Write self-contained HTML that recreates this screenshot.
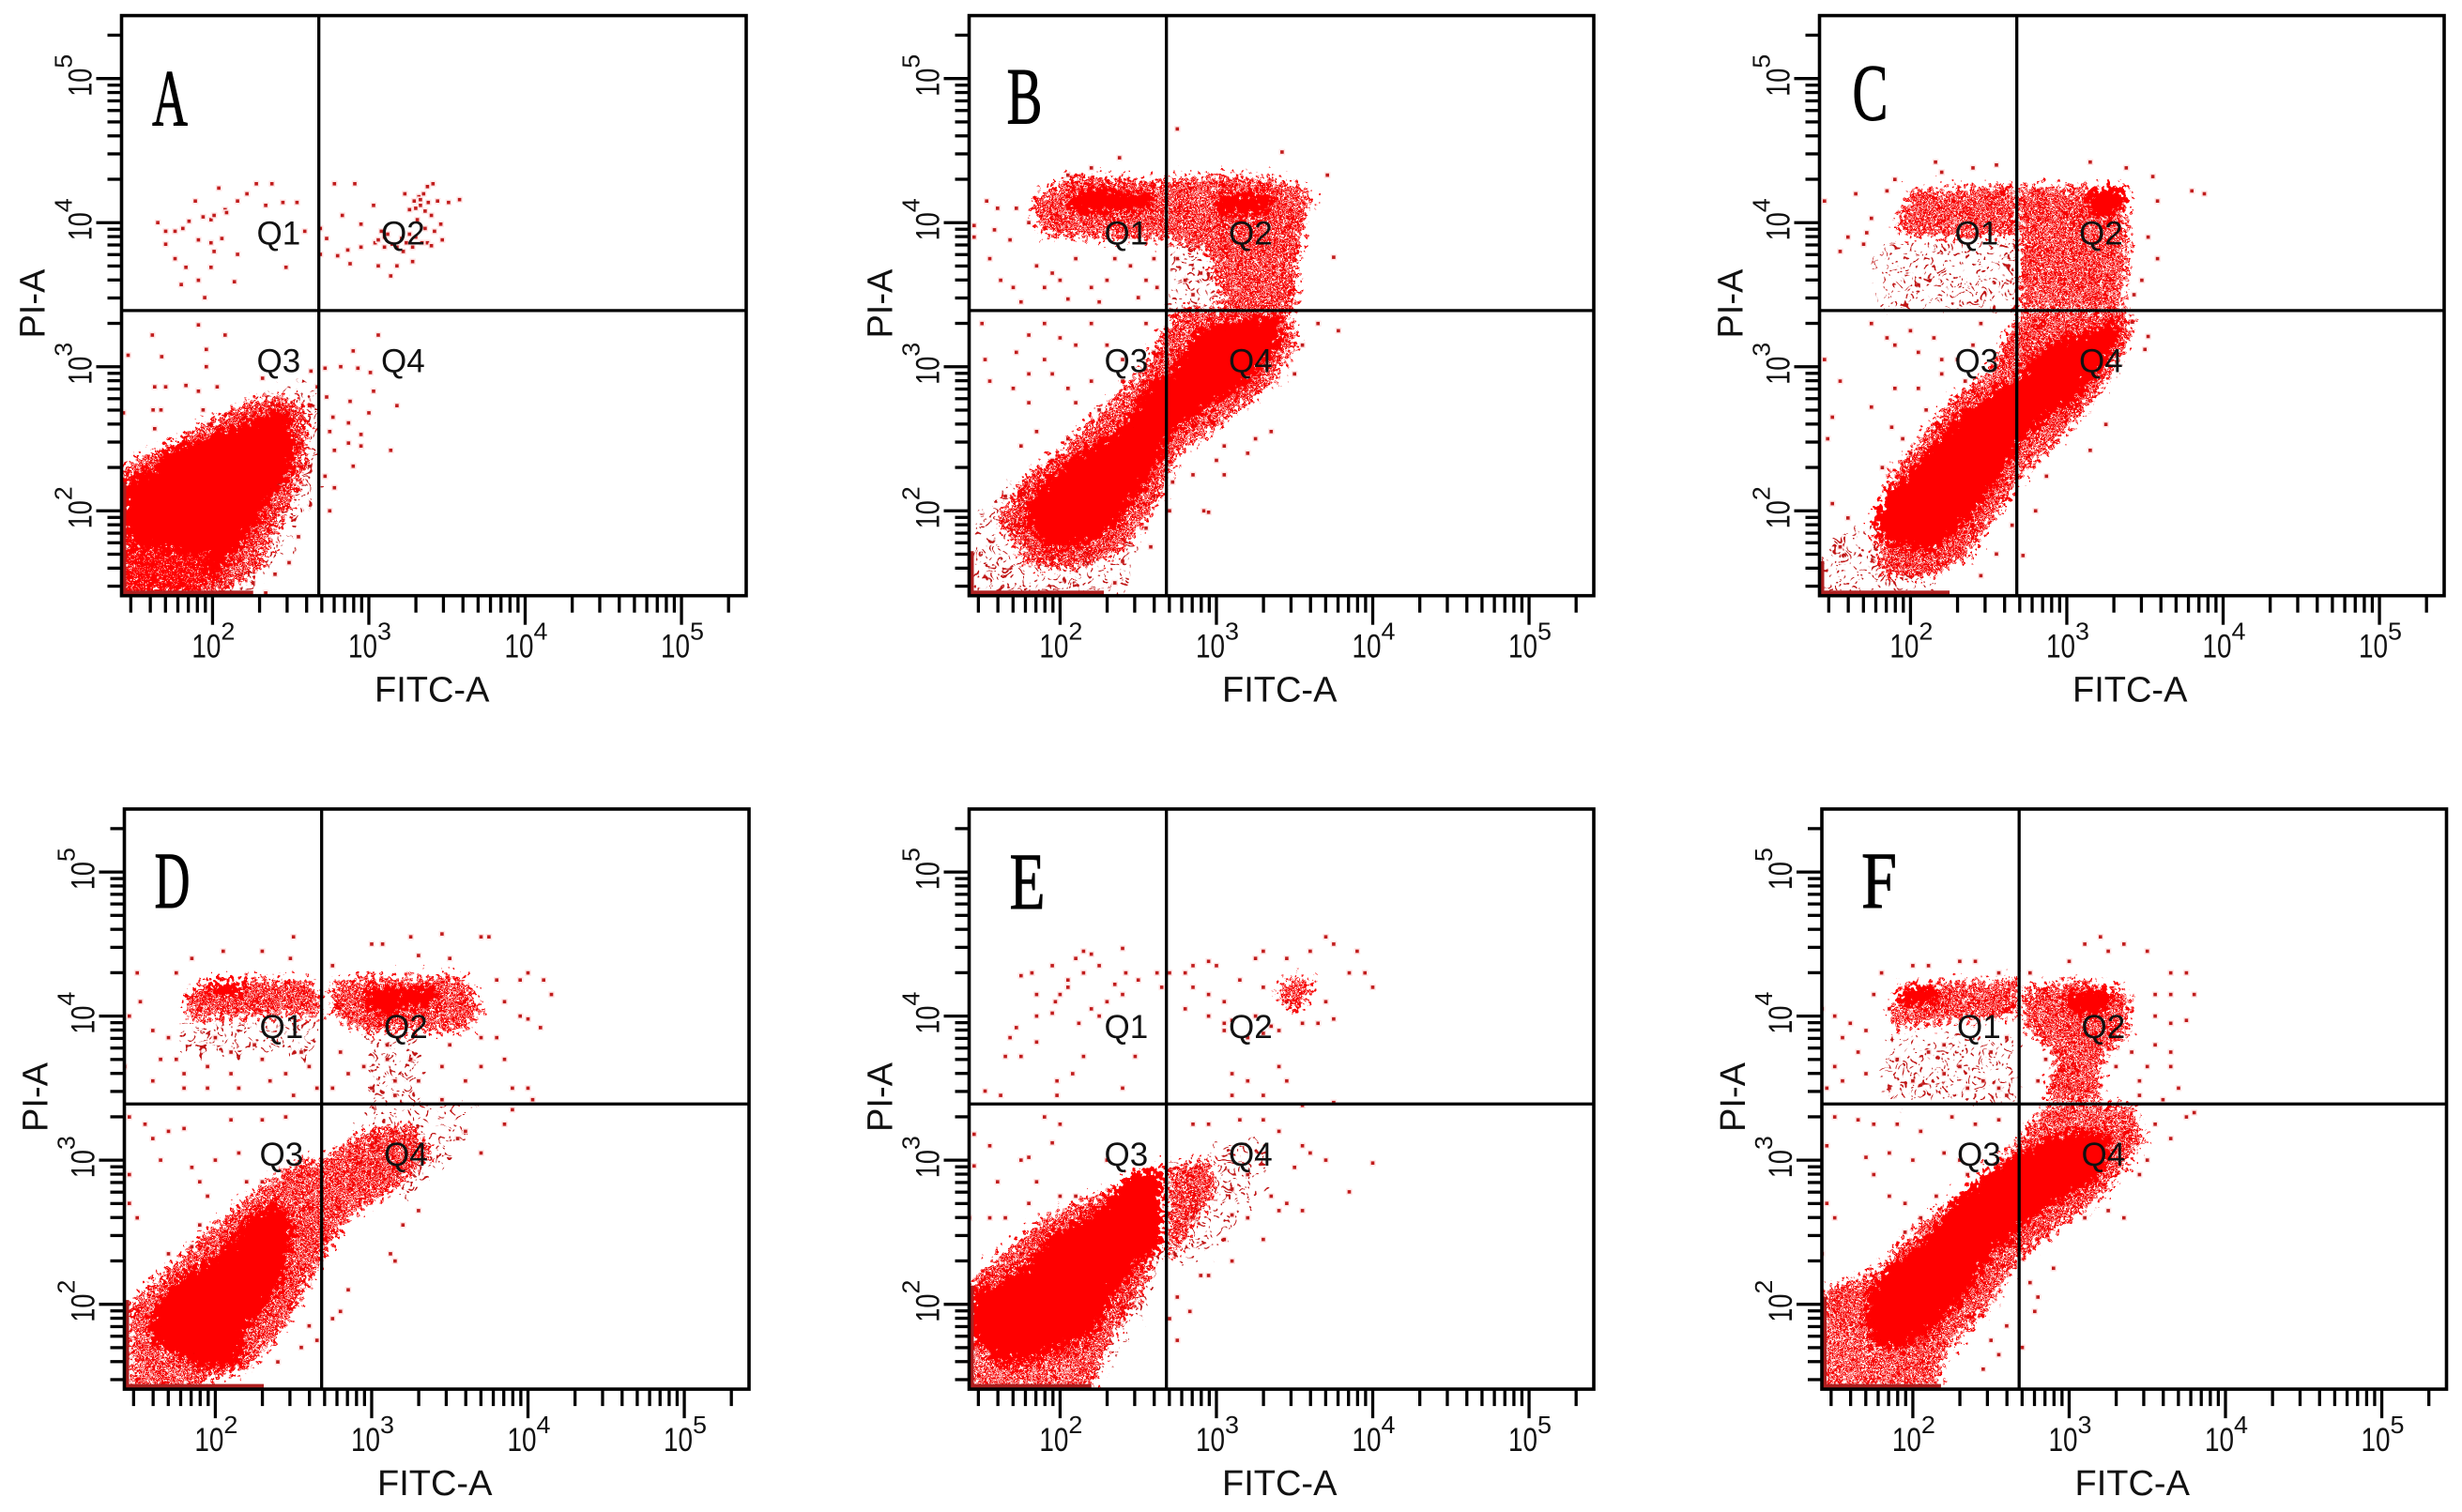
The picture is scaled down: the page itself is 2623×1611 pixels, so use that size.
<!DOCTYPE html>
<html lang="en">
<head>
<meta charset="utf-8">
<title>Annexin V-FITC / PI flow cytometry panels A-F</title>
<style>
html,body{margin:0;padding:0;background:#fff}
svg{display:block}
text{font-family:"Liberation Sans",sans-serif;fill:#111}
.letter{font-family:"Liberation Serif",serif;fill:#000;stroke:#000;stroke-width:0.9}
</style>
</head>
<body>
<svg id="figure" xmlns="http://www.w3.org/2000/svg" width="2623" height="1611" viewBox="0 0 2623 1611">
<defs>
<pattern id="tile-dense" patternUnits="userSpaceOnUse" width="36.3" height="36.3"><path id="tile-dense-path" fill="#f60000"/></pattern>
<pattern id="tile-sparse" patternUnits="userSpaceOnUse" width="36.3" height="36.3"><path id="tile-sparse-path" fill="#c01414"/></pattern>
<pattern id="tile-holes" patternUnits="userSpaceOnUse" width="36.3" height="36.3"><path id="tile-holes-path" fill="#ffe4e4"/></pattern>
<filter id="grain" filterUnits="userSpaceOnUse" x="0" y="0" width="2623" height="1611" color-interpolation-filters="sRGB">
<feTurbulence type="fractalNoise" baseFrequency="0.2" numOctaves="2" seed="7" result="n"/>
<feDisplacementMap in="SourceGraphic" in2="n" scale="38" xChannelSelector="R" yChannelSelector="G"/>
</filter>
<filter id="grain-coarse" filterUnits="userSpaceOnUse" x="0" y="0" width="2623" height="1611" color-interpolation-filters="sRGB">
<feTurbulence type="fractalNoise" baseFrequency="0.1" numOctaves="1" seed="11" result="n"/>
<feDisplacementMap in="SourceGraphic" in2="n" scale="42" xChannelSelector="R" yChannelSelector="G"/>
</filter>
</defs>
</svg>
<script>
// Axis scale: log10 decades
const xDomain = [1.418, 5.414];
const yDomain = [1.411, 5.437];
const gateX = 2.68;
const gateY = 3.39;
const tickDecades = [2, 3, 4, 5];
const minorMultipliers = [2, 3, 4, 5, 6, 7, 8, 9];
const lowDecadeMultipliers = [3, 4, 5, 6, 7, 8, 9];
const quadrantNames = ["Q1", "Q2", "Q3", "Q4"];
const xAxisTitle = "FITC-A";
const yAxisTitle = "PI-A";

// Panel A, [log10 FITC, log10 PI]
const solidA = [[[1.42,2.21],[1.63,2.31],[1.70,2.42],[1.96,2.52],[2.19,2.61],[2.39,2.71],[2.49,2.66],[2.54,2.44],[2.49,2.24],[2.36,2.05],[2.29,1.89],[2.125,1.69],[1.99,1.50],[1.80,1.41],[1.42,1.41]]];
const denseA = [[[1.42,2.3],[1.65,2.42],[1.95,2.6],[2.2,2.75],[2.45,2.8],[2.6,2.7],[2.6,2.3],[2.5,2.05],[2.4,1.85],[2.3,1.6],[2.05,1.41],[1.42,1.41]]];
const sparseA = [[[2.26,2.79],[2.49,2.86],[2.66,2.86],[2.66,2.02],[2.52,1.95],[2.45,1.66],[2.26,1.47],[2.09,1.41],[1.8,1.41],[1.8,2],[1.9,2.5]]];
const holesA = [[[1.42,1.41],[2.0,1.41],[1.95,1.7],[1.5,1.75],[1.42,1.9]]];
const pileBottomA = [1.42,2.26];
const pileLeftA = [1.41,2.2];
const eventsA = [[1.65,4.0],[1.70,3.94],[1.70,3.85],[1.76,3.94],[1.81,3.96],[1.89,4.15],[1.85,4.01],[1.94,4.04],[1.99,4.02],[2.04,4.24],[2.08,4.09],[2.01,4.05],[2.09,4.07],[2.16,4.15],[2.22,4.20],[2.28,4.27],[2.38,4.27],[2.34,4.12],[2.45,4.14],[2.54,4.14],[2.59,3.94],[2.16,3.78],[1.99,3.86],[1.91,3.88],[2.06,3.89],[1.76,3.75],[1.83,3.69],[1.80,3.57],[1.91,3.60],[1.95,3.48],[2.14,3.59],[1.99,3.69],[2.47,3.69],[2.01,3.80],
[2.78,4.27],[2.91,4.27],[2.69,3.96],[2.69,3.78],[2.73,3.89],[2.83,4.05],[2.80,3.77],[2.865,3.81],[2.88,3.715],[2.95,3.99],[3.03,4.12],[3.08,3.94],[3.06,3.70],[3.10,3.83],[3.14,3.63],[3.18,3.70],[3.23,4.20],[3.26,4.09],[3.29,4.15],[3.33,4.12],[3.375,4.25],[3.41,4.27],[3.44,4.15],[3.51,4.14],[3.58,4.16],[3.47,3.88],[3.46,3.99],[3.28,3.83],[3.34,3.86],[3.375,3.86],[3.18,3.83],[3.21,3.89],[3.31,4.02],[3.36,3.96],[3.28,3.73],[2.95,3.83],[3.10,3.90],[3.15,3.85],[3.12,3.92],[3.22,3.80],[3.30,3.90],[3.32,4.18],[3.36,4.08],[3.40,4.05],[3.33,4.16],[3.35,4.20],[3.30,4.10],[3.38,4.14],[3.04,3.86],[3.06,3.88],[3.24,3.86],[3.26,3.92],[3.42,3.94],[3.40,3.84],
[1.91,3.29],[1.615,3.22],[2.08,3.22],[1.96,3.12],[1.675,3.07],[1.46,3.08],[1.96,3.0],[1.63,2.86],[1.70,2.86],[1.83,2.87],[1.91,2.83],[2.03,2.86],[1.62,2.7],[1.67,2.7],[1.43,2.68],[1.63,2.57],[1.94,2.7],[1.98,2.6],
[2.32,2.92],[2.63,2.97],[2.67,2.86],[2.62,2.73],[2.57,2.47],[2.62,2.31],[2.55,1.82],[2.49,1.64],[2.40,1.56],[2.26,1.5],[2.34,1.43],
[3.06,3.22],[2.90,3.11],[2.82,3.0],[2.72,2.99],[2.93,2.99],[3.01,2.96],[3.03,2.83],[2.73,2.79],[2.88,2.76],[3.0,2.68],[3.18,2.73],[2.77,2.65],[2.87,2.61],[2.95,2.53],[2.75,2.55],[2.87,2.47],[2.95,2.45],[3.14,2.42],[2.78,2.42],[2.90,2.31],[2.72,2.24],[2.78,2.16],[2.75,2.0]];

// Panel B
const solidB = [[[1.77,2.05],[1.92,2.24],[2.09,2.39],[2.35,2.57],[2.45,2.70],[2.61,2.95],[2.68,2.92],[2.875,3.28],[3.40,3.375],[3.43,3.21],[3.34,3.05],[3.14,2.825],[2.94,2.70],[2.74,2.57],[2.68,2.44],[2.645,2.31],[2.48,2.08],[2.35,1.89],[2.18,1.76],[1.92,1.725],[1.79,1.89]],
[[3.0,4.2],[3.35,4.22],[3.35,4.05],[3.0,4.05]],[[2.04,4.2],[2.2,4.25],[2.6,4.2],[2.6,4.1],[2.1,4.05]]];
const denseB = [[[1.6,1.95],[1.75,2.2],[2.0,2.42],[2.3,2.72],[2.55,3.02],[2.75,3.4],[3.45,3.42],[3.52,3.15],[3.32,2.85],[3.0,2.58],[2.75,2.4],[2.62,2.05],[2.4,1.72],[2.1,1.6],[1.8,1.62]],
[[1.81,4.15],[2.09,4.33],[2.61,4.29],[3.01,4.33],[3.37,4.30],[3.6,4.22],[3.52,3.73],[3.5,3.39],[3.05,3.39],[2.94,3.80],[2.68,3.88],[1.89,3.91]]];
const sparseB = [[[1.42,1.42],[2.4,1.42],[2.5,1.8],[2.0,2.0],[1.7,2.2],[1.45,1.9]],[[2.72,3.85],[3.05,3.85],[3.05,3.39],[2.72,3.39]]];
const holesB = [];
const pileBottomB = [1.42,2.28];
const pileLeftB = [1.41,1.72];
const eventsB = [[1.53,4.15],[1.6,4.1],[1.45,3.98],[1.45,3.9],[1.58,3.95],[1.68,3.88],[1.72,4.1],[1.8,4.0],[2.38,4.45],[2.2,4.38],[2.05,4.33],
[1.55,3.75],[1.62,3.6],[1.7,3.55],[1.85,3.7],[1.95,3.65],[1.9,3.55],[2.0,3.6],[2.1,3.75],[2.2,3.55],[2.25,3.45],[2.3,3.6],[2.35,3.75],[2.5,3.48],[2.55,3.6],[2.6,3.75],[2.62,3.55],[1.75,3.45],[2.05,3.47],[2.45,3.7],[2.75,3.75],[2.8,3.6],[2.85,3.5],[2.9,3.65],
[2.75,4.65],[3.42,4.49],[3.71,4.33],[3.75,3.76],
[1.9,3.3],[1.8,3.22],[2.0,3.2],[1.72,3.1],[1.52,3.05],[1.9,3.05],[2.1,3.15],[2.2,3.3],[2.3,3.15],[2.55,3.3],[2.6,3.1],[1.8,2.95],[1.95,2.95],[2.05,2.85],[2.2,2.9],[2.1,2.75],[2.25,2.7],[1.85,2.55],[1.8,2.75],[1.7,2.85],[1.55,2.9],[1.5,3.3],[2.4,2.9],[2.05,2.5],[1.95,2.35],[1.75,2.45],[1.65,2.1],[2.4,3.05],
[2.55,1.88],[2.58,1.75],[2.35,1.5],[2.4,1.65],[2.6,2.1],[2.7,2.0],[2.72,2.2],[2.85,2.25],[2.92,2.0],[3.05,2.25],[2.95,1.99],[3.2,2.4],[3.25,2.5],[3.35,2.55],[3.05,2.45],[3.0,2.35],[3.78,3.25],[3.65,3.3],[3.5,2.95],[3.55,3.15]];

// Panel C
const solidC = [[[1.76,1.97],[1.86,2.15],[2.09,2.39],[2.29,2.66],[2.55,2.86],[2.68,2.92],[2.75,3.05],[2.97,3.21],[3.33,3.33],[3.34,3.21],[3.25,3.02],[3.06,2.76],[2.86,2.63],[2.7,2.47],[2.67,2.37],[2.54,2.18],[2.41,1.98],[2.28,1.82],[2.12,1.71],[1.86,1.76],[1.79,1.85]],
[[3.12,4.23],[3.36,4.25],[3.38,4.12],[3.25,4.02],[3.12,4.09]]];
const denseC = [[[1.82,1.55],[1.76,1.9],[1.88,2.25],[2.05,2.47],[2.25,2.76],[2.5,2.96],[2.7,3.38],[3.38,3.4],[3.42,3.2],[3.22,2.85],[3.0,2.55],[2.71,2.25],[2.58,2.02],[2.38,1.7],[2.15,1.55]],
[[1.9,3.98],[2.0,4.22],[2.67,4.26],[2.67,3.9],[2.29,3.9],[1.95,3.92]],
[[2.7,4.25],[3.38,4.25],[3.38,3.99],[3.4,3.73],[3.34,3.41],[2.7,3.41]]];
const sparseC = [[[1.8,3.86],[2.68,3.86],[2.68,3.41],[1.8,3.41]],[[1.43,1.42],[2.2,1.42],[1.8,1.9],[1.6,1.9],[1.43,1.6]]];
const holesC = [];
const pileBottomC = [1.42,2.25];
const pileLeftC = [1.41,1.65];
const eventsC = [[1.6,3.9],[1.7,3.85],[1.72,3.93],[1.55,3.8],[1.45,4.15],[1.75,4.03],[1.65,4.2],[1.85,4.22],[1.9,4.3],[2.16,4.42],[2.2,4.35],[2.4,4.38],[2.55,4.4],[3.15,4.42],[3.38,4.38],[3.55,4.32],[3.8,4.22],[3.58,4.15],[3.52,3.9],[3.58,3.75],[3.48,3.6],[3.43,3.5],[3.88,4.2],
[1.75,3.3],[1.85,3.2],[1.9,3.15],[2.0,3.25],[2.05,3.1],[2.2,3.05],[2.15,3.2],[2.4,3.15],[2.45,3.3],[1.45,3.05],[1.55,2.9],[1.9,2.85],[1.75,2.72],[2.05,2.85],[2.2,2.95],[2.3,3.05],[2.35,2.9],[2.1,2.7],[1.88,2.58],[1.95,2.5],[1.47,2.5],[1.5,2.65],[1.82,2.3],[2.0,2.4],
[2.8,2.0],[2.72,1.69],[2.87,2.24],[3.15,2.42],[3.25,2.6],[2.65,1.9],[2.55,1.7],[2.45,1.55],[3.52,3.21],[3.5,3.12],[3.42,3.31],[1.5,2.05],[1.6,1.95],[1.55,1.75]];

// Panel D
const solidD = [[[1.615,1.97],[1.71,2.14],[2.04,2.38],[2.2,2.6],[2.4,2.72],[2.52,2.55],[2.42,2.12],[2.21,1.84],[2.16,1.585],[1.94,1.55],[1.68,1.68],[1.55,1.81]],
[[1.95,4.24],[2.17,4.24],[2.17,4.14],[1.95,4.14]],[[2.95,4.2],[3.4,4.2],[3.4,4.08],[3.05,4.0],[2.95,4.05]]];
const denseD = [[[1.45,2.0],[1.7,2.25],[2.0,2.55],[2.3,2.82],[2.55,3.0],[2.68,3.0],[2.95,3.2],[3.25,3.25],[3.38,3.05],[3.15,2.8],[2.85,2.6],[2.68,2.3],[2.55,2.05],[2.4,1.78],[2.2,1.55],[1.8,1.42],[1.45,1.42]],
[[1.94,4.25],[2.60,4.25],[2.67,4.14],[2.67,4.0],[2.21,4.0],[1.85,3.97],[1.8,4.14]],
[[2.75,4.22],[2.93,4.27],[3.6,4.27],[3.7,4.04],[3.6,3.9],[2.93,3.9],[2.75,4.01]]];
const sparseD = [[[2.95,3.39],[3.7,3.39],[3.5,3.0],[3.2,2.7],[2.9,2.9]],[[3.0,3.88],[3.3,3.88],[3.3,3.42],[3.0,3.42]],[[1.8,3.95],[2.65,3.95],[2.65,3.75],[1.8,3.75]]];
const holesD = [[[1.42,1.42],[1.95,1.42],[1.75,1.65],[1.42,1.75]]];
const pileBottomD = [1.42,2.31];
const pileLeftD = [1.41,2.03];
const eventsD = [[1.45,4.0],[1.5,4.3],[1.52,4.1],[1.75,4.3],[1.85,4.4],[2.05,4.45],[2.3,4.45],[2.5,4.55],[2.48,4.4],[1.6,3.9],[1.7,3.85],[1.65,3.7],[1.75,3.7],[1.42,3.65],[1.6,3.55],[1.8,3.6],[1.8,3.5],[1.95,3.65],[1.95,3.5],[2.1,3.75],[2.1,3.6],[2.15,3.5],[2.3,3.7],[2.35,3.55],[2.45,3.6],[2.5,3.45],[2.55,3.75],[2.6,3.65],[2.65,3.5],[2.0,3.85],[2.25,3.8],
[2.75,4.35],[3.0,4.5],[3.07,4.5],[3.25,4.55],[3.45,4.57],[3.7,4.55],[3.75,4.55],[3.5,4.4],[3.3,4.42],[3.8,4.25],[3.95,4.25],[4.0,4.3],[4.1,4.25],[4.15,4.15],[3.85,4.1],[3.95,4.0],[4.0,3.98],[4.08,3.92],[3.7,3.85],[3.8,3.85],[3.85,3.7],[3.7,3.65],[3.6,3.55],[3.9,3.5],[4.0,3.5],[4.03,3.42],[2.8,3.75],[2.85,3.6],[2.95,3.65],[3.0,3.5],[3.1,3.8],[3.1,3.7],[3.15,3.55],[3.15,3.45],[3.25,3.7],[3.3,3.55],[3.45,3.65],[3.5,3.8],[2.75,3.5],[3.45,3.42],
[1.45,3.3],[1.55,3.25],[1.6,3.15],[1.7,3.2],[1.8,3.22],[2.1,3.28],[2.3,3.28],[2.45,3.3],[1.65,3.0],[1.85,2.95],[2.0,3.0],[2.15,3.05],[1.9,2.85],[1.95,2.75],[2.2,2.85],[2.3,2.85],[1.45,2.7],[1.5,2.6],[1.9,2.55],[1.85,2.4],[1.7,2.35],[1.45,2.9],
[3.6,3.2],[3.7,3.05],[3.85,3.25],[3.9,3.35],[3.55,3.15],[3.2,2.55],[3.3,2.65],[3.15,2.3],[3.12,2.35],[2.85,2.1],[2.8,1.95],[2.75,1.9],[2.65,1.75],[2.55,1.7],[2.6,1.85],[2.4,1.6]];

// Panel E
const solidE = [[[1.42,2.10],[1.625,2.16],[1.82,2.32],[1.95,2.51],[2.18,2.61],[2.35,2.80],[2.48,2.93],[2.66,2.96],[2.66,2.38],[2.55,2.32],[2.35,2.06],[2.22,1.78],[2.05,1.71],[1.95,1.62],[1.69,1.52],[1.42,1.74]]];
const denseE = [[[1.42,1.41],[2.2,1.41],[2.3,1.7],[2.5,2.05],[2.64,2.4],[2.64,2.95],[1.9,2.6],[1.42,2.15]],
[[2.7,2.95],[2.95,3.0],[3.0,2.8],[2.85,2.55],[2.7,2.3]],
[[3.38,4.17],[3.48,4.27],[3.62,4.25],[3.55,4.06],[3.47,4.04]]];
const sparseE = [[[2.25,1.45],[2.5,1.85],[2.62,2.2],[2.65,2.4],[2.4,2.05],[2.2,1.7]],[[2.7,3.0],[3.3,3.15],[3.3,2.8],[3.0,2.4],[2.7,2.2]]];
const holesE = [[[1.42,1.42],[2.2,1.42],[2.0,1.68],[1.6,1.6],[1.42,1.8]]];
const pileBottomE = [1.42,2.2];
const pileLeftE = [1.41,2.13];
const eventsE = [[1.75,4.28],[1.82,4.3],[1.85,4.15],[1.95,4.35],[2.1,4.4],[2.15,4.45],[2.2,4.43],[2.05,4.25],[2.0,4.15],[2.05,4.2],[2.15,4.3],[2.25,4.35],[2.4,4.47],[2.42,4.3],[2.35,4.22],[2.4,4.15],[2.5,4.25],[2.62,4.3],[2.65,4.2],[1.85,4.0],[1.95,4.02],[1.97,4.1],[2.12,3.95],[1.72,3.92],[1.65,3.72],[1.68,3.85],[1.75,3.72],[1.85,3.82],[2.08,3.6],[1.98,3.55],[1.98,3.45],[2.4,3.5],[1.52,3.48],[1.62,3.45],[2.15,3.72],[2.48,3.72],[2.3,4.1],[2.2,4.05],[2.25,4.0],
[2.7,4.3],[2.8,4.3],[2.85,4.35],[2.95,4.38],[3.0,4.35],[2.85,4.2],[2.95,4.15],[2.8,4.05],[2.95,4.0],[3.05,4.1],[3.05,3.9],[3.1,3.97],[3.15,4.25],[3.25,4.4],[3.3,4.45],[3.3,4.2],[3.45,4.4],[3.6,4.45],[3.7,4.55],[3.75,4.5],[3.9,4.45],[3.95,4.3],[4.0,4.2],[3.85,4.3],[3.7,4.1],[3.65,3.95],[3.75,3.98],[3.55,3.95],[3.35,3.93],[3.2,3.85],[3.3,3.88],[3.4,3.9],[3.1,3.6],[3.2,3.55],[3.4,3.65],[3.45,3.55],[3.1,3.45],[3.3,3.45],[3.55,3.38],[3.75,3.4],[3.05,3.95],[3.25,4.0],[3.45,4.1],
[1.45,3.18],[1.55,3.1],[1.9,3.3],[2.0,3.25],[1.95,3.12],[1.8,3.02],[1.75,3.0],[1.45,2.96],[1.6,2.85],[1.85,2.85],[1.42,2.6],[1.55,2.6],[1.65,2.6],[2.0,2.75],[2.1,2.75],[1.8,2.7],[2.3,3.0],[1.75,2.35],
[2.85,3.25],[2.95,3.25],[3.15,3.28],[3.3,3.28],[3.4,3.2],[3.55,3.1],[3.6,3.05],[3.7,3.0],[4.0,2.98],[3.85,2.78],[3.5,2.95],[3.45,2.7],[3.4,2.65],[3.55,2.65],[3.35,2.75],[3.2,2.9],[3.1,2.8],[3.2,2.6],[3.05,2.45],[3.1,2.3],[2.9,2.2],[2.75,2.05],[2.7,1.9],[2.83,1.95],[2.95,2.2],[2.75,1.75],[3.3,2.45],[3.1,2.62]];

// Panel F
const solidF = [[[1.71,2.10],[1.835,2.26],[2.03,2.415],[2.22,2.64],[2.29,2.77],[2.51,2.93],[2.67,3.05],[2.87,3.18],[3.22,3.21],[3.29,3.05],[3.16,2.83],[2.90,2.70],[2.71,2.54],[2.51,2.35],[2.38,2.10],[2.16,1.84],[1.93,1.68],[1.77,1.71],[1.69,1.90]],
[[1.9,4.2],[2.16,4.2],[2.16,4.08],[1.9,4.08]],[[2.97,4.17],[3.29,4.2],[3.25,4.03],[3.0,4.0]]];
const denseF = [[[1.42,1.42],[2.15,1.42],[2.2,1.65],[2.5,2.0],[2.66,2.3],[2.95,2.55],[3.25,2.8],[3.48,3.15],[3.4,3.38],[2.85,3.38],[2.65,3.1],[2.35,2.82],[2.05,2.56],[1.75,2.22],[1.42,2.1]],
[[1.85,3.98],[1.93,4.22],[2.67,4.25],[2.67,4.01],[2.25,3.97],[1.9,3.92]],
[[2.7,4.18],[3.06,4.25],[3.38,4.17],[3.38,3.88],[3.19,3.66],[3.2,3.41],[2.85,3.41],[2.92,3.725],[2.72,3.92]]];
const sparseF = [[[1.8,3.85],[2.65,3.85],[2.65,3.42],[1.8,3.42]]];
const holesF = [[[1.42,1.42],[2.1,1.42],[1.9,1.6],[1.5,1.95],[1.42,1.95]]];
const pileBottomF = [1.42,2.18];
const pileLeftF = [1.41,2.05];
const eventsF = [[1.42,4.05],[1.5,4.0],[1.6,3.95],[1.7,3.9],[1.55,3.85],[1.65,3.75],[1.5,3.65],[1.45,3.5],[1.55,3.55],[1.7,3.6],[1.85,3.5],[1.9,3.7],[2.0,3.55],[2.1,3.75],[2.2,3.6],[2.2,3.8],[2.3,3.65],[2.35,3.5],[2.45,3.55],[2.5,3.75],[2.55,3.5],[2.6,3.45],[2.6,3.85],[1.8,4.3],[1.75,4.15],[1.85,4.05],[2.0,4.35],[2.1,4.35],[2.3,4.38],[2.4,4.38],[2.55,4.3],
[2.75,4.3],[3.0,4.38],[3.2,4.55],[3.25,4.45],[3.35,4.5],[3.1,4.5],[3.5,4.45],[3.65,4.3],[3.75,4.3],[3.55,4.15],[3.65,4.15],[3.8,4.15],[3.55,4.0],[3.65,3.95],[3.75,3.97],[3.55,3.8],[3.65,3.75],[3.65,3.65],[3.7,3.5],[3.5,3.65],[3.45,3.55],[3.4,3.75],[3.45,3.45],[3.3,3.65],[2.85,3.7],[2.8,3.55],[3.0,3.5],[3.6,3.42],[3.8,3.33],
[1.5,3.3],[1.65,3.28],[1.75,3.25],[1.9,3.25],[2.05,3.2],[2.25,3.3],[2.4,3.25],[2.55,3.28],[1.45,3.1],[1.7,3.02],[1.85,3.05],[2.0,3.0],[2.2,3.05],[2.35,2.9],[2.3,3.0],[1.75,2.9],[1.85,2.75],[1.95,2.7],[2.05,2.6],[2.15,2.75],[1.45,2.7],[1.5,2.6],[1.95,2.5],[1.42,2.35],
[3.55,3.25],[3.65,3.15],[3.75,3.3],[3.45,2.9],[3.5,3.0],[3.25,2.65],[3.35,2.6],[3.1,2.6],[2.9,2.25],[2.75,2.15],[2.8,2.05],[2.78,1.95],[2.7,1.7],[2.55,1.65],[2.45,1.55],[2.6,1.85],[2.5,1.75]];

// Stipple textures for regions too crowded to list event by event
const tileDense = ["###.#.##.##",".#.###.###.","##.#.##.###",".##.###.#.#","#.##.###.##","###.##.#.##",".#.#.##.###","#.###.#.##.",".##.#####.#","##.##.#.#.#",".#.###.##.#"];
const tileSparse = ["#...#......","......#....","..#.......#",".......#...","#..........","....#.....#","...........",".#.....#...",".....#.....","#.........#","..........."];
const tileHoles = ["...#.......",".......#...","#..........",".....#....#","..#........","........#..","....#......",".#.......#.","......#....","...#.......","#.......#.."];
const tileCell = 3.3;

const panelLayout = [
 {key:"a", letter:"A", left:129.5, top:16.6, letterDx:32.5, letterBase:117, solid:solidA, dense:denseA, sparse:sparseA, holes:holesA, events:eventsA, pileBottom:pileBottomA, pileLeft:pileLeftA},
 {key:"b", letter:"B", left:1032.5, top:16.6, letterDx:40, letterBase:115, solid:solidB, dense:denseB, sparse:sparseB, holes:holesB, events:eventsB, pileBottom:pileBottomB, pileLeft:pileLeftB},
 {key:"c", letter:"C", left:1938.5, top:16.6, letterDx:35, letterBase:111, solid:solidC, dense:denseC, sparse:sparseC, holes:holesC, events:eventsC, pileBottom:pileBottomC, pileLeft:pileLeftC},
 {key:"d", letter:"D", left:132.5, top:862, letterDx:32, letterBase:105, solid:solidD, dense:denseD, sparse:sparseD, holes:holesD, events:eventsD, pileBottom:pileBottomD, pileLeft:pileLeftD},
 {key:"e", letter:"E", left:1032.5, top:862, letterDx:43, letterBase:106, solid:solidE, dense:denseE, sparse:sparseE, holes:holesE, events:eventsE, pileBottom:pileBottomE, pileLeft:pileLeftE},
 {key:"f", letter:"F", left:1941, top:862, letterDx:42, letterBase:105, solid:solidF, dense:denseF, sparse:sparseF, holes:holesF, events:eventsF, pileBottom:pileBottomF, pileLeft:pileLeftF}
];

const NS = "http://www.w3.org/2000/svg";
const plotW = 665.5, plotH = 618.1;
const svg = document.getElementById("figure");
const defs = svg.querySelector("defs");

function make(tag, parent, attrs, txt) {
  const n = document.createElementNS(NS, tag);
  for (const k in attrs) n.setAttribute(k, attrs[k]);
  if (txt !== undefined) n.textContent = txt;
  parent.appendChild(n);
  return n;
}
function tilePath(rows) {
  let d = "";
  rows.forEach((row, r) => { for (let c = 0; c < row.length; c++) if (row[c] === "#") d += "M" + (c * tileCell) + " " + (r * tileCell) + "h3.3v3.3h-3.3z"; });
  return d;
}
document.getElementById("tile-dense-path").setAttribute("d", tilePath(tileDense));
document.getElementById("tile-sparse-path").setAttribute("d", tilePath(tileSparse));
document.getElementById("tile-holes-path").setAttribute("d", tilePath(tileHoles));

panelLayout.forEach(p => {
  const L = p.left, T = p.top, B = T + plotH;
  const xs = v => L + (v - xDomain[0]) / (xDomain[1] - xDomain[0]) * plotW;
  const ys = v => B - (v - yDomain[0]) / (yDomain[1] - yDomain[0]) * plotH;
  const pts = poly => poly.map(q => xs(q[0]).toFixed(1) + "," + ys(q[1]).toFixed(1)).join(" ");

  const g = make("g", svg, {});
  
  

  const clip = make("clipPath", defs, {id:"clip-" + p.key});
  make("rect", clip, {x:L, y:T, width:plotW, height:plotH});
  const plotArea = make("g", g, {"clip-path":"url(#clip-" + p.key + ")"});
  
  

  // individual events
  const evG = make("g", plotArea, {});
  
  
  p.events.forEach(e => {
    const r = make("rect", evG, {x:(xs(e[0]) - 1.8).toFixed(1), y:(ys(e[1]) - 1.8).toFixed(1), width:3.6, height:3.6, fill:"#c01c1c", stroke:"#ffe6e6", "stroke-width":3, "paint-order":"stroke"});
    
    
  });

  // sparse density regions
  const sparseG = make("g", plotArea, {filter:"url(#grain-coarse)"});
  
  
  p.sparse.forEach(poly => {
    const s = make("polygon", sparseG, {points:pts(poly), fill:"url(#tile-sparse)"});
    
    
  });

  // dense and saturated regions, roughened so their edges scatter like events
  const regions = make("g", plotArea, {filter:"url(#grain)"});
  
  
  p.dense.forEach(poly => {
    const s = make("polygon", regions, {points:pts(poly), fill:"url(#tile-dense)"});
    
    
  });
  p.solid.forEach(poly => {
    const s = make("polygon", regions, {points:pts(poly), fill:"#ff0000"});
    
    
  });
  p.holes.forEach(poly => {
    const s = make("polygon", regions, {points:pts(poly), fill:"url(#tile-holes)"});
    
    
  });

  // on-axis pile-up
  const pb = make("line", plotArea, {x1:xs(p.pileBottom[0]), x2:xs(p.pileBottom[1]), y1:B - 3, y2:B - 3, stroke:"#b02020", "stroke-width":5});
  
  
  const pl = make("line", plotArea, {x1:L + 3, x2:L + 3, y1:ys(p.pileLeft[0]), y2:ys(p.pileLeft[1]), stroke:"#b02020", "stroke-width":4});
  
  

  // ticks
  const tickAttr = {stroke:"#000", "stroke-width":3.3};
  const addTick = (v, major, axis) => {
    let t;
    if (axis === "x") t = make("line", g, Object.assign({x1:xs(v), x2:xs(v), y1:B, y2:B + (major ? 31 : 18)}, tickAttr));
    else t = make("line", g, Object.assign({x1:L, x2:L - (major ? 27 : 15), y1:ys(v), y2:ys(v)}, tickAttr));
    
    
  };
  lowDecadeMultipliers.forEach(m => { addTick(1 + Math.log10(m), false, "x"); addTick(1 + Math.log10(m), false, "y"); });
  tickDecades.forEach(d => {
    addTick(d, true, "x");
    addTick(d, true, "y");
    minorMultipliers.forEach(m => {
      const v = d + Math.log10(m);
      if (v < xDomain[1] - 0.05) addTick(v, false, "x");
      if (v < yDomain[1] - 0.05) addTick(v, false, "y");
    });

    const xl = make("text", g, {x:xs(d) - 22, y:B + 66, "font-size":35, textLength:31, lengthAdjust:"spacingAndGlyphs"}, "10");
    
    
    const xe = make("text", g, {x:xs(d) + 9, y:B + 47, "font-size":26, textLength:15, lengthAdjust:"spacingAndGlyphs"}, String(d));
    
    

    const yBase = L - 32, y0 = ys(d) + 19;
    const yl = make("text", g, {x:0, y:0, transform:"translate(" + yBase + " " + y0 + ") rotate(-90)", "font-size":35, textLength:30, lengthAdjust:"spacingAndGlyphs"}, "10");
    
    
    const ye = make("text", g, {x:0, y:0, transform:"translate(" + (L - 53) + " " + (ys(d) - 11) + ") rotate(-90)", "font-size":26, textLength:15, lengthAdjust:"spacingAndGlyphs"}, String(d));
    
    
  });

  // gates
  const gv = make("line", g, {x1:xs(gateX), x2:xs(gateX), y1:T, y2:B, stroke:"#000", "stroke-width":3.3});
  
  
  const gh = make("line", g, {x1:L, x2:L + plotW, y1:ys(gateY), y2:ys(gateY), stroke:"#000", "stroke-width":3.3});
  
  

  // frame
  const fr = make("rect", g, {x:L, y:T, width:plotW, height:plotH, fill:"none", stroke:"#000", "stroke-width":3.6});
  
  

  // quadrant labels
  quadrantNames.forEach((q, i) => {
    const qx = L + (i % 2 ? 276.5 : 144);
    const qy = T + (i < 2 ? 244 : 380);
    const t = make("text", g, {x:qx, y:qy, "font-size":35}, q);
    
    
  });

  // panel letter
  const lt = make("text", g, {x:L + p.letterDx, y:T + p.letterBase, "font-size":86, textLength:38, lengthAdjust:"spacingAndGlyphs", class:"letter"}, p.letter);
  
  

  // axis titles
  const xt = make("text", g, {x:L + 269.5, y:B + 113, "font-size":38}, xAxisTitle);
  
  
  const yt = make("text", g, {x:0, y:0, transform:"translate(" + (L - 82) + " " + (T + 307) + ") rotate(-90)", "font-size":38, "text-anchor":"middle"}, yAxisTitle);
  
  
});
</script>
</body>
</html>
